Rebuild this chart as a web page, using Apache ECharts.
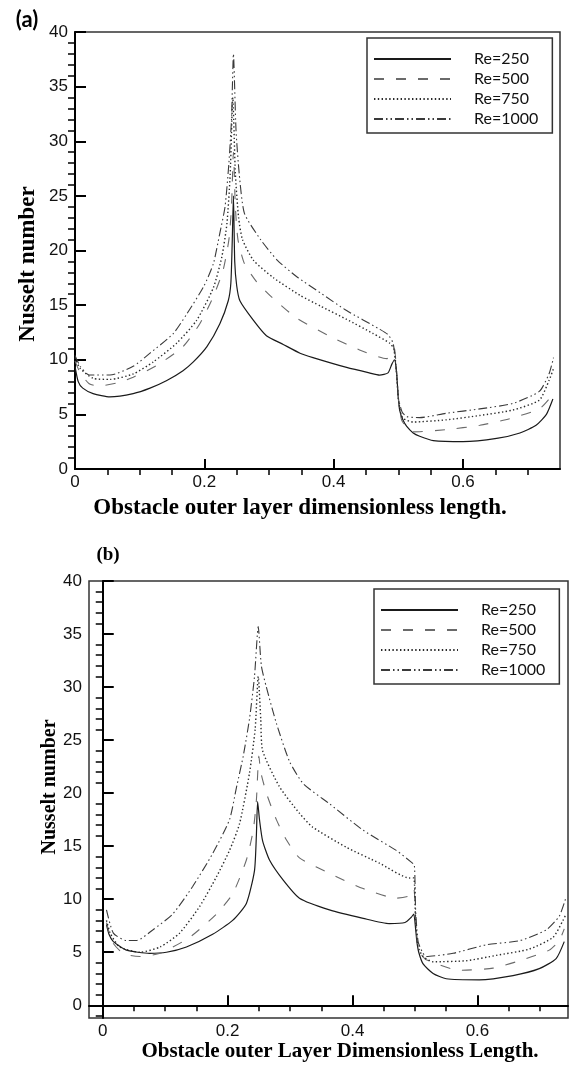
<!DOCTYPE html>
<html>
<head>
<meta charset="utf-8">
<script src="https://cdn.jsdelivr.net/npm/echarts@6/dist/echarts.min.js"></script>
<style>html,body{margin:0;padding:0;background:#fff}#c{width:572px;height:1065px}</style>
</head>
<body>
<div id="c"></div>
<script>
// ---------- DATA (x = dimensionless length, y = Nusselt number) ----------
const seriesNames = ['Re=250', 'Re=500', 'Re=750', 'Re=1000'];
const xMajorTicks = [0, 0.2, 0.4, 0.6];
const xMinorTicks = [0.05, 0.1, 0.15, 0.25, 0.3, 0.35, 0.45, 0.5, 0.55, 0.65, 0.7];
const yMajorTicks = [0, 5, 10, 15, 20, 25, 30, 35, 40];

// Panel (a)
const a250 = [[0.000,9.4],[0.005,8.0],[0.012,7.4],[0.028,6.9],[0.054,6.6],[0.090,6.9],[0.116,7.4],[0.142,8.1],[0.167,9.0],[0.183,9.8],[0.204,11.2],[0.224,13.3],[0.237,15.4],[0.241,17.0],[0.243,20.5],[0.245,25.0],[0.247,19.0],[0.250,16.8],[0.255,15.4],[0.276,13.6],[0.296,12.2],[0.322,11.4],[0.348,10.6],[0.368,10.2],[0.420,9.3],[0.455,8.8],[0.471,8.6],[0.484,8.8],[0.490,9.6],[0.494,10.0],[0.497,9.0],[0.500,6.5],[0.502,5.4],[0.507,4.5],[0.513,3.9],[0.523,3.3],[0.533,3.0],[0.554,2.6],[0.600,2.5],[0.652,2.8],[0.688,3.3],[0.713,4.0],[0.729,5.0],[0.739,6.4]];
const a500 = [[0.000,9.9],[0.008,8.8],[0.022,7.8],[0.036,7.6],[0.067,7.9],[0.090,8.4],[0.127,9.5],[0.167,11.2],[0.193,13.3],[0.214,15.8],[0.229,18.2],[0.238,21.0],[0.242,24.0],[0.245,29.0],[0.248,24.0],[0.252,21.0],[0.262,18.8],[0.280,17.2],[0.303,15.8],[0.343,13.8],[0.399,12.0],[0.440,10.9],[0.482,10.1],[0.490,10.5],[0.494,11.0],[0.497,9.0],[0.500,6.5],[0.505,4.5],[0.513,3.8],[0.523,3.4],[0.574,3.6],[0.626,4.0],[0.672,4.6],[0.718,5.5],[0.733,6.4],[0.740,7.0]];
const a750 = [[0.000,10.2],[0.008,9.2],[0.028,8.3],[0.054,8.2],[0.090,8.7],[0.121,9.8],[0.157,11.5],[0.188,13.6],[0.214,16.6],[0.227,19.4],[0.235,22.5],[0.240,27.0],[0.244,34.0],[0.248,27.0],[0.253,23.0],[0.259,21.0],[0.276,19.1],[0.307,17.5],[0.348,15.9],[0.380,14.9],[0.420,13.7],[0.461,12.4],[0.487,11.5],[0.493,11.0],[0.497,9.0],[0.500,6.5],[0.504,5.0],[0.508,4.6],[0.523,4.3],[0.574,4.5],[0.626,4.9],[0.677,5.4],[0.718,6.3],[0.733,8.1],[0.740,9.2]];
const a1000 = [[0.000,10.4],[0.008,9.4],[0.022,8.6],[0.054,8.6],[0.090,9.4],[0.116,10.6],[0.152,12.4],[0.173,14.2],[0.199,16.7],[0.214,18.8],[0.224,21.6],[0.232,24.0],[0.238,28.0],[0.242,32.0],[0.245,38.0],[0.249,31.0],[0.254,27.0],[0.262,23.4],[0.287,21.0],[0.313,19.1],[0.343,17.6],[0.380,16.1],[0.420,14.5],[0.471,12.8],[0.484,12.3],[0.492,11.5],[0.497,9.0],[0.500,6.5],[0.506,5.2],[0.513,4.8],[0.533,4.7],[0.574,5.1],[0.626,5.5],[0.677,6.0],[0.718,7.1],[0.733,8.7],[0.740,10.2]];

// Panel (b)
const b250 = [[0.006,7.6],[0.010,6.7],[0.017,6.0],[0.038,5.2],[0.075,4.9],[0.102,5.0],[0.134,5.5],[0.176,6.7],[0.208,8.0],[0.230,9.6],[0.243,12.7],[0.246,16.0],[0.248,19.2],[0.251,17.5],[0.256,15.5],[0.267,13.7],[0.289,11.8],[0.315,10.1],[0.363,9.0],[0.417,8.2],[0.459,7.7],[0.484,7.8],[0.494,8.3],[0.498,8.6],[0.501,7.2],[0.503,6.0],[0.506,5.0],[0.513,3.9],[0.529,3.0],[0.550,2.5],[0.603,2.4],[0.657,2.8],[0.699,3.45],[0.726,4.4],[0.739,6.0]];
const b500 = [[0.006,7.8],[0.015,6.0],[0.030,5.0],[0.044,4.7],[0.060,4.6],[0.092,4.9],[0.139,6.4],[0.182,8.6],[0.208,10.5],[0.230,13.7],[0.241,16.5],[0.246,19.3],[0.250,23.5],[0.253,22.0],[0.262,20.0],[0.278,17.5],[0.294,15.6],[0.315,13.9],[0.368,12.3],[0.417,11.0],[0.470,10.1],[0.490,10.3],[0.498,11.0],[0.501,8.0],[0.505,5.5],[0.510,4.8],[0.518,4.3],[0.571,3.3],[0.625,3.5],[0.673,4.3],[0.715,5.2],[0.731,6.1],[0.739,7.2]];
const b750 = [[0.006,8.0],[0.012,6.8],[0.027,5.5],[0.060,5.0],[0.092,5.5],[0.123,6.8],[0.155,9.3],[0.182,12.1],[0.203,14.6],[0.219,17.1],[0.235,21.9],[0.244,26.0],[0.249,31.0],[0.253,27.0],[0.256,24.0],[0.283,20.6],[0.315,18.1],[0.336,16.8],[0.390,14.9],[0.443,13.4],[0.491,12.0],[0.498,12.0],[0.501,8.0],[0.505,5.5],[0.513,4.6],[0.529,4.1],[0.582,4.2],[0.630,4.7],[0.683,5.3],[0.721,6.4],[0.737,8.0],[0.742,8.6]];
const b1000 = [[0.006,9.0],[0.017,6.8],[0.038,6.1],[0.054,6.1],[0.080,7.1],[0.112,8.6],[0.144,11.2],[0.176,14.3],[0.203,17.5],[0.214,20.5],[0.225,23.5],[0.235,27.0],[0.243,31.0],[0.249,35.7],[0.254,32.0],[0.262,30.0],[0.278,26.6],[0.299,23.0],[0.321,20.9],[0.363,19.0],[0.417,16.5],[0.470,14.6],[0.494,13.5],[0.499,13.2],[0.501,9.0],[0.505,6.0],[0.512,5.0],[0.518,4.6],[0.561,4.9],[0.614,5.7],[0.668,6.1],[0.710,7.1],[0.731,8.4],[0.742,10.2]];

const panelA = [a250, a500, a750, a1000];
const panelB = [b250, b500, b750, b1000];

// ---------- STYLES ----------
const lineStyles = [
  {type: 'solid', color: '#1a1a1a', width: 1.2},
  {type: [10, 12], color: '#6a6a6a', width: 1.1},
  {type: [1.4, 2.4], color: '#2a2a2a', width: 1.4},
  {type: [9, 3, 1.5, 3, 1.5, 3], color: '#3a3a3a', width: 1.1}
];
const tickFont = {fontFamily: '"Liberation Sans", Arial, sans-serif', fontSize: 17, color: '#111'};
const fmt = v => (v === 0 ? '0' : String(v));

function xAxes(grid, min, max) {
  return [
    {gridIndex: grid, type: 'value', min: min, max: max,
     axisLine: {show: true, lineStyle: {color: '#000', width: 2}},
     axisTick: {show: true, inside: true, length: 10, customValues: xMajorTicks, lineStyle: {color: '#000', width: 2}},
     axisLabel: {show: true, customValues: xMajorTicks, margin: 5, formatter: fmt, ...tickFont},
     splitLine: {show: false}},
    {gridIndex: grid, type: 'value', min: min, max: max,
     axisLine: {show: false},
     axisTick: {show: true, inside: true, length: 6, customValues: xMinorTicks, lineStyle: {color: '#000', width: 1.5}},
     axisLabel: {show: false}, splitLine: {show: false}}
  ];
}
function yAxes(grid, min, max, minor) {
  return [
    {gridIndex: grid, type: 'value', min: min, max: max,
     axisLine: {show: true, lineStyle: {color: '#000', width: 2}},
     axisTick: {show: true, inside: true, length: 11, customValues: yMajorTicks, lineStyle: {color: '#000', width: 2}},
     axisLabel: {show: true, customValues: yMajorTicks, margin: 7, formatter: fmt, ...tickFont},
     splitLine: {show: false}},
    {gridIndex: grid, type: 'value', min: min, max: max,
     axisLine: {show: false},
     axisTick: {show: true, inside: true, length: 7, customValues: minor, lineStyle: {color: '#000', width: 1.5}},
     axisLabel: {show: false}, splitLine: {show: false}}
  ];
}
const yMinorA = [];
for (let v = 1; v < 40; v++) if (v % 5) yMinorA.push(v);
const yMinorB = [-1].concat(yMinorA);

const series = [];
[panelA, panelB].forEach((panel, p) => {
  panel.forEach((data, i) => {
    series.push({
      name: seriesNames[i], type: 'line', xAxisIndex: p * 2, yAxisIndex: p * 2,
      data: data, showSymbol: false, symbol: 'none', smooth: 0.2,
      lineStyle: lineStyles[i], itemStyle: {color: lineStyles[i].color},
      z: 3
    });
  });
});

function legend(left, top) {
  return {
    left: left, top: top, orient: 'vertical', data: seriesNames,
    itemWidth: 77, itemHeight: 14, itemGap: 0,
    itemStyle: {opacity: 0},
    padding: [11, 14, 4, 6], borderColor: '#333', borderWidth: 1.5,
    textStyle: {fontFamily: 'Lato, "Open Sans", sans-serif', fontSize: 16, color: '#111', lineHeight: 20, padding: [0, 0, 0, 18]},
    selectedMode: false
  };
}

const option = {
  animation: false,
  backgroundColor: '#fff',
  grid: [
    {left: 75, top: 32, width: 485, height: 437, show: true, borderColor: '#333', borderWidth: 1.5, backgroundColor: 'transparent'},
    {left: 89, top: 581, width: 479, height: 437, show: true, borderColor: '#333', borderWidth: 1.5, backgroundColor: 'transparent'}
  ],
  xAxis: xAxes(0, 0, 0.75).concat(xAxes(1, -0.022, 0.745)),
  yAxis: yAxes(0, 0, 40, yMinorA).concat(yAxes(1, -1.2, 40, yMinorB)),
  legend: [legend(367, 38), legend(374, 589)],
  series: series,
  graphic: [
    {type: 'text', x: 27, y: 20, style: {text: '(a)', font: 'bold 22px Lato, sans-serif', fill: '#000', textAlign: 'center', textVerticalAlign: 'middle'}},
    {type: 'text', x: 108, y: 555, style: {text: '(b)', font: 'bold 19px "Liberation Serif", serif', fill: '#000', textAlign: 'center', textVerticalAlign: 'middle'}},
    {type: 'text', x: 300, y: 508, style: {text: 'Obstacle outer layer dimensionless length.', font: 'bold 23px "Liberation Serif", serif', fill: '#000', textAlign: 'center', textVerticalAlign: 'middle'}},
    {type: 'text', x: 340, y: 1052, style: {text: 'Obstacle outer Layer Dimensionless Length.', font: 'bold 21px "Liberation Serif", serif', fill: '#000', textAlign: 'center', textVerticalAlign: 'middle'}},
    {type: 'text', x: 28, y: 264, rotation: Math.PI / 2, style: {text: 'Nusselt number', font: 'bold 23px "Liberation Serif", serif', fill: '#000', textAlign: 'center', textVerticalAlign: 'middle'}},
    {type: 'text', x: 50, y: 787, rotation: Math.PI / 2, style: {text: 'Nusselt number', font: 'bold 20px "Liberation Serif", serif', fill: '#000', textAlign: 'center', textVerticalAlign: 'middle'}}
  ]
};

const chart = echarts.init(document.getElementById('c'), null, {renderer: 'canvas'});
chart.setOption(option);
</script>
</body>
</html>
